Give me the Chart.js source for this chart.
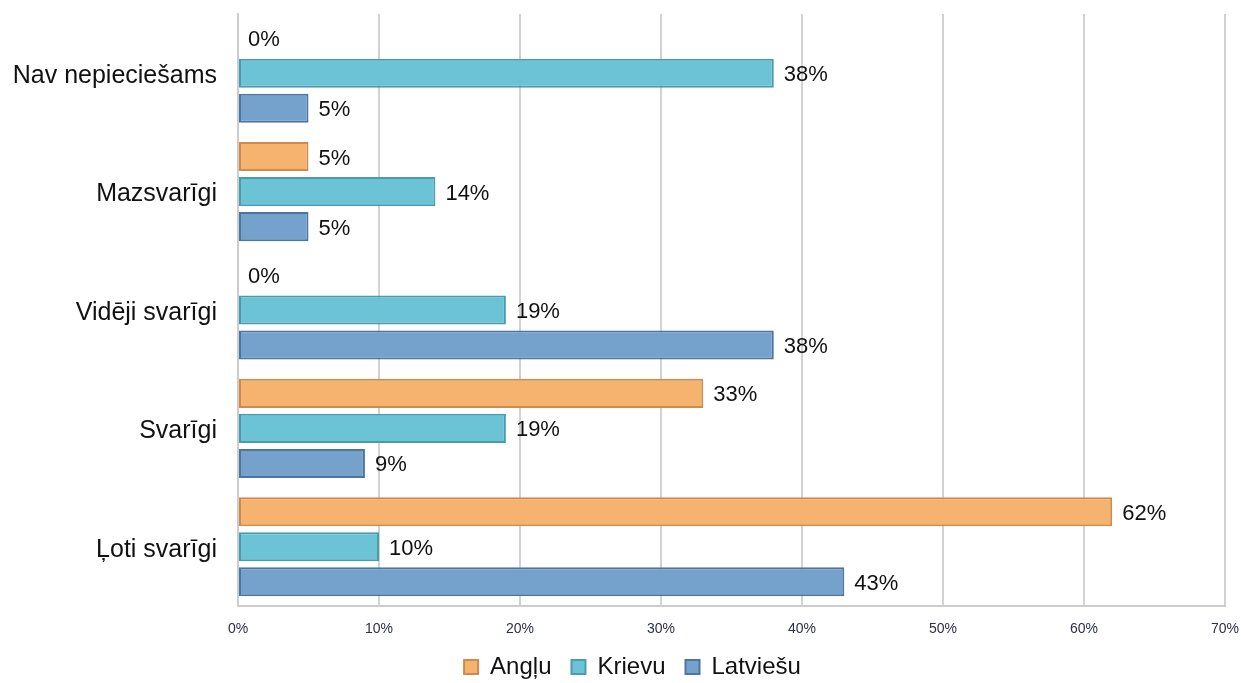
<!DOCTYPE html>
<html>
<head>
<meta charset="utf-8">
<script src="https://cdn.jsdelivr.net/npm/chart.js@4/dist/chart.umd.min.js"></script>
<style>
  html, body { margin: 0; padding: 0; background: #fff; }
</style>
</head>
<body>
<canvas id="chart" width="1241" height="683"></canvas>
<script>
// categories top to bottom
const categories = ['Nav nepieciešams', 'Mazsvarīgi', 'Vidēji svarīgi', 'Svarīgi', 'Ļoti svarīgi'];
const seriesNames = ['Angļu', 'Krievu', 'Latviešu'];
const angluValues = [0, 5, 0, 33, 62];
const krievuValues = [38, 14, 19, 19, 10];
const latviesuValues = [5, 5, 38, 9, 43];
const xTicks = [0, 10, 20, 30, 40, 50, 60, 70];

const FONT = "'Liberation Sans', Arial, Helvetica, sans-serif";

// value labels at bar ends
const barLabels = {
  id: 'barLabels',
  afterDatasetsDraw(chart) {
    const ctx = chart.ctx;
    ctx.save();
    ctx.font = `22px ${FONT}`;
    ctx.fillStyle = '#111';
    ctx.textAlign = 'left';
    ctx.textBaseline = 'middle';
    chart.data.datasets.forEach((ds, i) => {
      chart.getDatasetMeta(i).data.forEach((el, j) => {
        ctx.fillText(ds.data[j] + '%', el.x + 10, el.y + 2);
      });
    });
    ctx.restore();
  }
};

// nudge the legend a bit right, like the original sits
const legendNudge = {
  id: 'legendNudge',
  afterLayout(chart) {
    const lg = chart.legend;
    if (!lg) return;
    lg.left += 20; lg.right += 20;
    lg.top -= 1; lg.bottom -= 1;
  }
};

new Chart(document.getElementById('chart'), {
  type: 'bar',
  data: {
    labels: categories,
    datasets: [
      { label: seriesNames[0], data: angluValues, backgroundColor: '#f6b370', borderColor: '#d08a4c' },
      { label: seriesNames[1], data: krievuValues, backgroundColor: '#6cc3d6', borderColor: '#4a9bb0' },
      { label: seriesNames[2], data: latviesuValues, backgroundColor: '#74a2cc', borderColor: '#4c76a0' },
    ].map(d => ({ borderWidth: 2, borderSkipped: false, barPercentage: 0.83, categoryPercentage: 0.887, ...d })),
  },
  options: {
    indexAxis: 'y',
    responsive: false,
    animation: false,
    devicePixelRatio: 1,
    layout: { padding: { top: 14, right: 16, left: 0, bottom: -7 } },
    plugins: {
      legend: {
        position: 'bottom',
        labels: {
          color: '#111', font: { family: FONT, size: 24 },
          boxWidth: 14, boxHeight: 14, padding: 20,
        },
      },
      tooltip: { enabled: false },
    },
    scales: {
      x: {
        min: 0, max: 70,
        afterBuildTicks: (s) => { s.ticks = xTicks.map(v => ({ value: v })); },
        afterFit: (s) => { s.height = 30; s.paddingLeft = 0; s.paddingRight = 0; },
        grid: { color: '#d2d2d2', lineWidth: 2, drawTicks: false },
        border: { color: '#cccccc', width: 2 },
        ticks: { color: '#2a2f4a', font: { family: FONT, size: 14 }, padding: 15, maxRotation: 0, callback: (v) => v + '%' },
      },
      y: {
        afterFit: (s) => { s.width = 238; s.paddingTop = 0; s.paddingBottom = 0; },
        grid: { display: false, drawTicks: false },
        border: { color: '#cccccc', width: 2 },
        ticks: { color: '#111', font: { family: FONT, size: 25 }, padding: 21, labelOffset: 3 },
      },
    },
  },
  plugins: [barLabels, legendNudge],
});
</script>
</body>
</html>
